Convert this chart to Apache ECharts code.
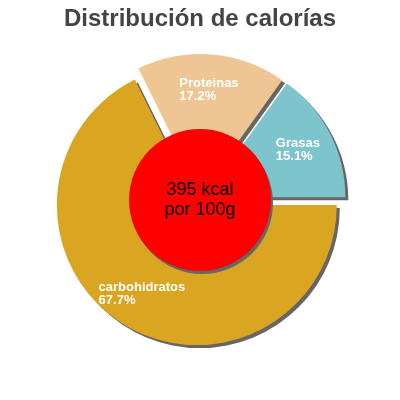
<!DOCTYPE html>
<html>
<head>
<meta charset="utf-8">
<script src="https://cdn.jsdelivr.net/npm/echarts@6/dist/echarts.min.js"></script>
<style>
  html, body { margin: 0; padding: 0; background: #fff; }
  #chart { width: 400px; height: 400px; }
</style>
</head>
<body>
<div id="chart"></div>
<script>
// datos del gráfico
var categories = ['carbohidratos', 'Proteinas', 'Grasas'];
var percents = [67.7, 17.2, 15.1];
var sliceColors = ['#daa520', '#f0c594', '#7dc4cd'];
var kcal = 395;
var centerLines = [kcal + ' kcal', 'por 100g'];

var pieData = [];
for (var i = 0; i < categories.length; i++) {
  pieData.push({
    name: categories[i],
    value: percents[i],
    selected: true,
    itemStyle: { color: sliceColors[i] }
  });
}

var myChart = echarts.init(document.getElementById('chart'));
var option = {
  animation: false,
  title: {
    text: 'Distribución de calorías',
    left: 'center',
    top: 2,
    textStyle: {
      fontFamily: 'Liberation Sans',
      fontSize: 24,
      fontWeight: 'bold',
      color: '#444'
    }
  },
  series: [
    {
      // porciones
      type: 'pie',
      center: ['50%', '50%'],
      radius: [62, 140],
      startAngle: 0,
      clockwise: true,
      percentPrecision: 1,
      selectedMode: 'multiple',
      selectedOffset: 6,
      silent: true,
      itemStyle: {
        shadowColor: '#666',
        shadowBlur: 0,
        shadowOffsetX: 3,
        shadowOffsetY: 3
      },
      label: {
        show: true,
        position: 'inside',
        formatter: '{a|{b}}\n{a|{d}%}',
        rich: {
          a: {
            align: 'left',
            color: '#fff',
            fontFamily: 'Liberation Sans',
            fontSize: 13,
            fontWeight: 'bold',
            lineHeight: 13
          }
        }
      },
      labelLine: { show: false },
      emphasis: { disabled: true },
      data: pieData
    },
    {
      // círculo central
      type: 'pie',
      center: ['50%', '50%'],
      radius: 71,
      silent: true,
      itemStyle: {
        color: '#ff0000',
        shadowColor: '#666',
        shadowBlur: 0,
        shadowOffsetX: 2,
        shadowOffsetY: 3
      },
      label: {
        show: true,
        position: 'center',
        formatter: centerLines.join('\n'),
        color: '#000',
        fontFamily: 'Liberation Sans',
        fontSize: 18,
        lineHeight: 20
      },
      labelLine: { show: false },
      emphasis: { disabled: true },
      data: [{ name: 'kcal', value: kcal }]
    }
  ]
};
myChart.setOption(option);
</script>
</body>
</html>
